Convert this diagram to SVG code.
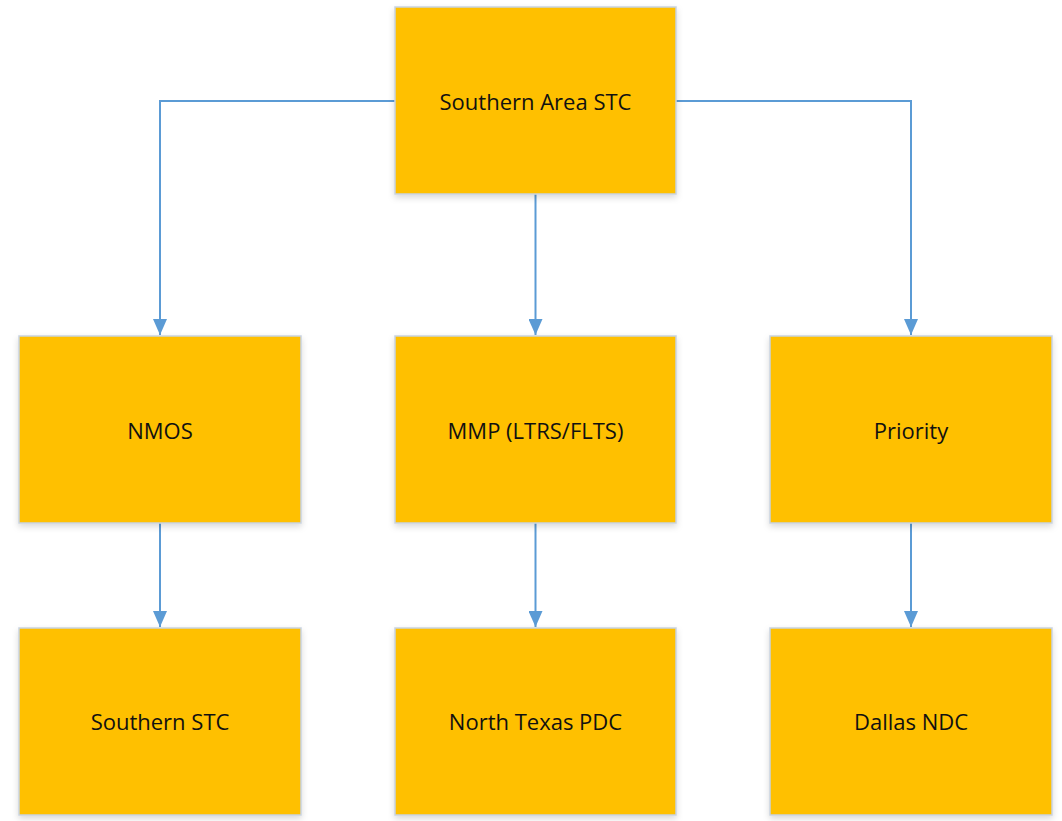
<svg xmlns="http://www.w3.org/2000/svg" width="1062" height="821" viewBox="0 0 1062 821">
<style>
.box{fill:#ffc000;stroke:#c9d3e0;stroke-width:1.5}
.lbl{font-family:"Open Sans","Liberation Sans",sans-serif;font-size:22px;fill:#111;text-anchor:middle;dominant-baseline:central}
.conn{fill:none;stroke:#5b9bd5;stroke-width:2}
</style>
<defs>
<marker id="arr" markerWidth="16" markerHeight="14" refX="16" refY="7" orient="auto" markerUnits="userSpaceOnUse" viewBox="0 0 16 14">
<path d="M0,0 L16,7 L0,14 Z" fill="#5b9bd5"/>
</marker>
<filter id="sh" x="-5%" y="-5%" width="110%" height="115%">
<feDropShadow dx="0" dy="3" stdDeviation="3" flood-color="#000" flood-opacity="0.15"/>
</filter>
</defs>
<rect width="1062" height="821" fill="#fff"/>
<g id="connectors">
<path class="conn" d="M395,101 H160 V335" marker-end="url(#arr)"/>
<path class="conn" d="M676,101 H911 V335" marker-end="url(#arr)"/>
<path class="conn" d="M535.5,194 V335" marker-end="url(#arr)"/>
<path class="conn" d="M160,523 V627" marker-end="url(#arr)"/>
<path class="conn" d="M535.5,523 V627" marker-end="url(#arr)"/>
<path class="conn" d="M911,523 V627" marker-end="url(#arr)"/>
</g>
<g id="n-southern-area-stc"><rect class="box" filter="url(#sh)" x="395" y="7" width="281" height="187"/><text class="lbl" x="535.5" y="101">Southern Area STC</text></g>
<g id="n-nmos"><rect class="box" filter="url(#sh)" x="19" y="336" width="282" height="187"/><text class="lbl" x="160" y="430">NMOS</text></g>
<g id="n-mmp"><rect class="box" filter="url(#sh)" x="395" y="336" width="281" height="187"/><text class="lbl" x="535.5" y="430">MMP (LTRS/FLTS)</text></g>
<g id="n-priority"><rect class="box" filter="url(#sh)" x="770" y="336" width="282" height="187"/><text class="lbl" x="911" y="430">Priority</text></g>
<g id="n-southern-stc"><rect class="box" filter="url(#sh)" x="19" y="628" width="282" height="187"/><text class="lbl" x="160" y="721">Southern STC</text></g>
<g id="n-north-texas-pdc"><rect class="box" filter="url(#sh)" x="395" y="628" width="281" height="187"/><text class="lbl" x="535.5" y="721">North Texas PDC</text></g>
<g id="n-dallas-ndc"><rect class="box" filter="url(#sh)" x="770" y="628" width="282" height="187"/><text class="lbl" x="911" y="721">Dallas NDC</text></g>
</svg>
